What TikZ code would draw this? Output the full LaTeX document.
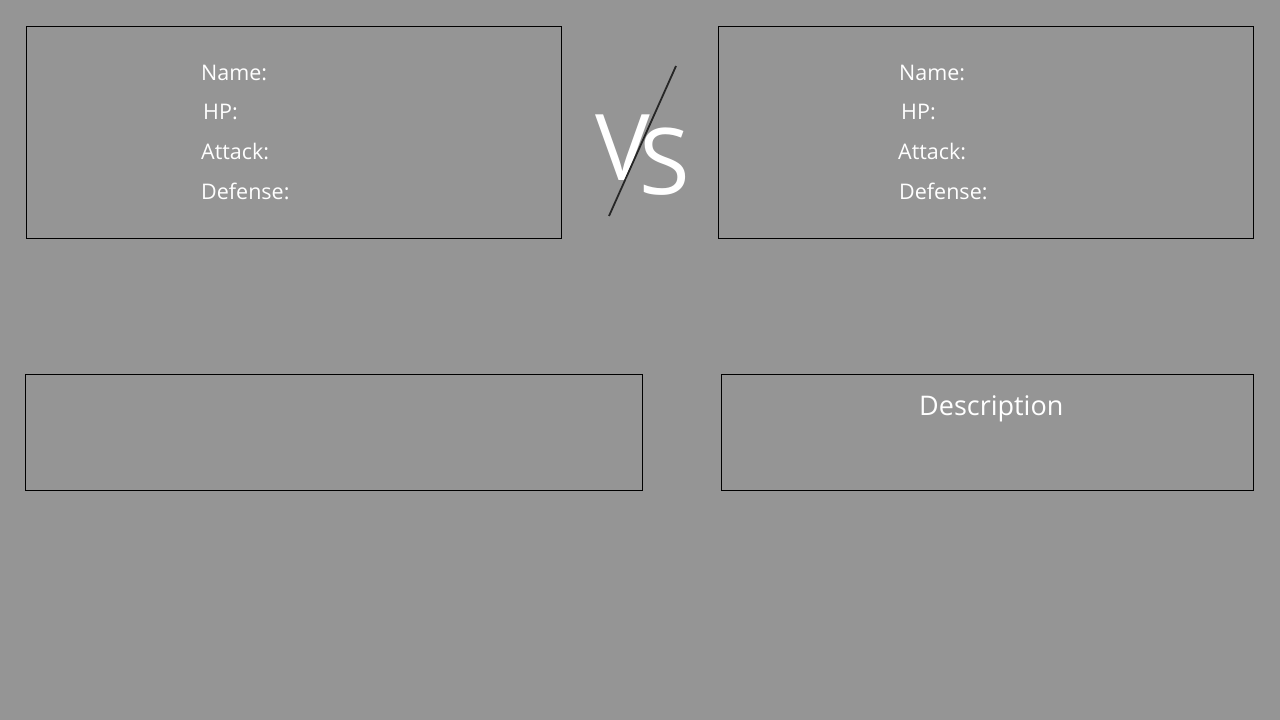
\documentclass[tikz,border=0pt]{standalone}
\usepackage{fontspec}
\setmainfont{Open Sans}
\definecolor{bg}{HTML}{959595}
\begin{document}
\begin{tikzpicture}[x=1pt,y=-1pt,
  panel/.style={draw=black,line width=0.8pt},
  lbl/.style={anchor=base west,inner sep=0pt,text=white,font=\fontsize{21.5}{24}\selectfont},
  big/.style={anchor=base west,inner sep=0pt,text=white,font=\fontsize{92}{100}\selectfont}]
\fill[bg] (0,0) rectangle (1280,720);
\useasboundingbox (0,0) rectangle (1280,720);
\node[panel,anchor=north west,minimum width=535pt,minimum height=212pt,inner sep=0pt] (p1) at (26,26) {};
\node[panel,anchor=north west,minimum width=535pt,minimum height=212pt,inner sep=0pt] (p2) at (718,26) {};
\node[panel,anchor=north west,minimum width=617pt,minimum height=116pt,inner sep=0pt] (p3) at (25,374) {};
\node[panel,anchor=north west,minimum width=532pt,minimum height=116pt,inner sep=0pt] (p4) at (721,374) {};
\node[lbl] (n1) at (201,80) {Name:};
\node[lbl] (h1) at (203,119) {HP:};
\node[lbl] (a1) at (201,159) {Attack:};
\node[lbl] (d1) at (201,199) {Defense:};
\node[lbl] (n2) at (899,80) {Name:};
\node[lbl] (h2) at (901,119) {HP:};
\node[lbl] (a2) at (898,159) {Attack:};
\node[lbl] (d2) at (899,199) {Defense:};
\node[lbl,font=\fontsize{27}{32}\selectfont] (desc) at (919,415) {Description};
\node[big] (vs) at (595,180) {V\kern-10pt\raisebox{-14pt}{S}};
\coordinate (l1) at (676,66);
\coordinate (l2) at (609,216);
\draw[line width=1.8pt,black!85] (l1) -- (l2);
\end{tikzpicture}
\end{document}
